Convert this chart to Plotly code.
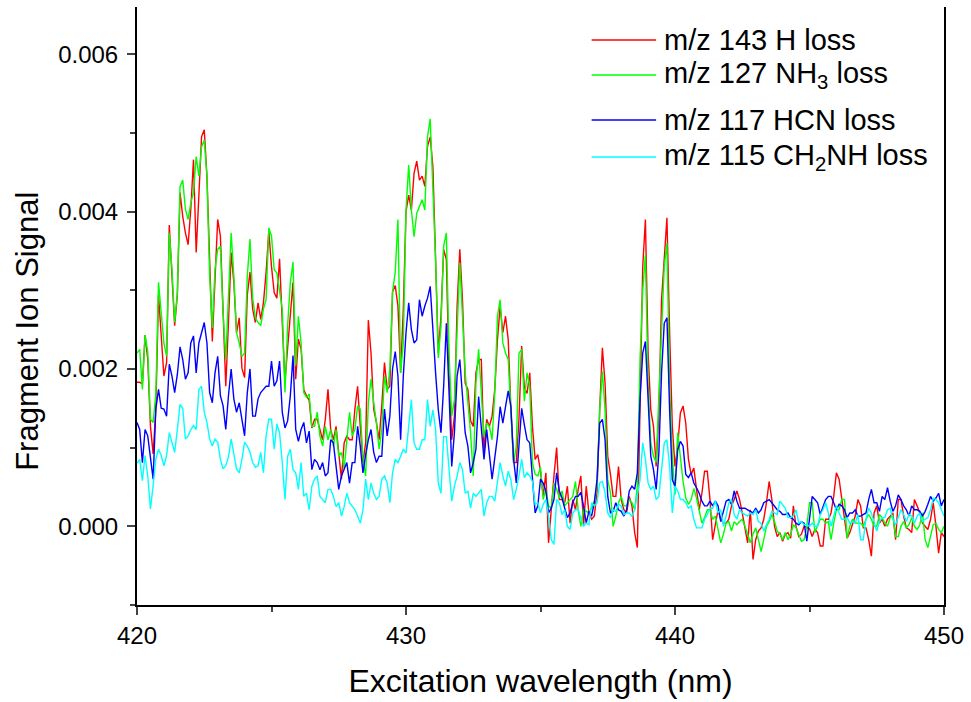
import numpy as np
import plotly.graph_objects as go

# Excitation wavelength grid (nm), 420.0 ... 450.0 in 0.1 nm steps
wavelength = [round(420 + 0.1 * i, 1) for i in range(301)]

# Fragment ion signals, in units of 1e-4
h_loss_143 = [
    18.3, 18.3, 18.1, 24.3, 21.2, 12.7, 9.2, 14.9, 29.4, 24.2,
    19.1, 20.8, 38.3, 31.8, 25.5, 29.4, 42.4, 39.4, 37.3, 35.8,
    40.3, 46.6, 34.8, 42.0, 49.5, 50.4, 44.5, 33.9, 23.5, 31.4,
    39.0, 36.9, 26.3, 17.8, 25.9, 34.8, 31.0, 24.6, 26.5, 20.1,
    18.9, 29.4, 32.3, 27.6, 25.9, 28.4, 26.3, 28.4, 32.3, 37.5,
    33.0, 29.7, 29.0, 34.0, 25.9, 18.3, 22.7, 27.0, 31.0, 18.7,
    23.8, 22.5, 17.4, 16.6, 16.0, 12.5, 13.6, 13.6, 12.3, 11.0,
    13.6, 17.4, 12.3, 11.0, 12.7, 9.4, 6.0, 10.6, 11.5, 11.0,
    11.0, 14.9, 17.8, 12.7, 8.1, 10.6, 26.2, 22.0, 14.9, 13.2,
    11.0, 15.3, 20.8, 17.4, 17.8, 29.8, 30.6, 28.0, 19.5, 27.6,
    40.0, 42.1, 40.2, 44.9, 46.4, 44.0, 44.5, 43.2, 48.3, 49.5,
    45.7, 33.9, 22.0, 26.7, 35.2, 33.9, 19.5, 11.0, 14.0, 28.0,
    35.2, 28.8, 18.2, 17.4, 13.4, 12.7, 19.5, 21.2, 21.2, 9.3,
    13.6, 12.7, 14.0, 17.4, 23.7, 28.0, 24.6, 26.7, 23.7, 14.8,
    8.1, 8.1, 13.6, 22.9, 17.6, 16.9, 19.5, 12.7, 8.5, 9.1,
    7.0, 3.8, 6.8, -2.1, 2.6, 6.4, 10.0, 3.4, 3.4, 3.0,
    5.1, 0.4, 3.4, 2.1, 4.7, 6.4, 0.0, 5.1, 1.7, 0.9,
    1.3, 4.3, 14.8, 22.7, 18.2, 8.9, 6.6, 3.8, 3.8, 7.6,
    3.4, 2.1, 1.7, 3.8, 2.6, -0.8, -2.7, 15.2, 33.0, 39.0,
    22.0, 14.8, 12.7, 7.6, 14.4, 28.8, 34.0, 39.2, 24.6, 12.7,
    7.6, 10.2, 14.4, 15.3, 13.1, 8.5, 6.6, 7.4, 4.7, 2.1,
    4.2, 7.0, 7.0, 3.4, -1.7, 0.0, 2.1, 0.9, 0.4, 0.4,
    0.9, 2.6, 3.4, 4.5, 3.4, 1.7, -0.4, -2.1, 2.1, -4.2,
    -1.7, -0.6, -0.2, 0.9, 3.0, 5.7, 3.4, 0.0, -1.3, -0.8,
    -1.9, -1.0, -0.8, -1.5, 2.6, 0.0, -1.3, -1.0, 0.0, -0.2,
    -0.3, -1.3, -0.4, -0.8, -2.5, -2.5, 0.9, 0.9, 1.7, 3.8,
    6.8, 6.0, 3.4, 0.4, -1.5, -0.8, 0.2, 1.3, 3.4, 2.6,
    -0.2, -0.2, -1.7, -3.8, 1.7, 2.6, 0.4, 0.9, 0.0, 0.9,
    1.3, 1.7, -1.7, 3.4, 3.4, 1.3, -0.2, -0.4, -0.8, 3.4,
    2.6, 1.7, 0.4, 0.0, -0.4, 0.9, 3.0, 0.0, -3.4, -0.8,
    -1.3,
]

nh3_loss_127 = [
    22.0, 22.5, 17.4, 24.3, 22.2, 13.6, 13.2, 16.8, 31.0, 26.7,
    23.3, 21.6, 37.3, 32.7, 25.9, 29.7, 43.2, 44.0, 40.3, 39.0,
    41.1, 42.4, 47.0, 44.5, 48.2, 49.1, 44.5, 31.8, 25.2, 32.7,
    35.2, 35.6, 27.1, 21.2, 29.4, 37.3, 31.8, 24.6, 23.3, 21.6,
    22.0, 31.8, 36.5, 29.0, 26.5, 25.9, 25.5, 27.6, 28.8, 37.9,
    36.9, 32.6, 32.2, 29.9, 27.6, 17.0, 25.5, 31.0, 33.6, 20.4,
    26.7, 23.3, 17.0, 16.4, 16.8, 12.7, 12.7, 14.5, 11.5, 10.2,
    12.7, 11.0, 12.3, 10.2, 12.3, 8.9, 9.4, 7.3, 11.0, 14.5,
    11.5, 12.3, 15.3, 14.9, 8.5, 6.4, 15.7, 18.7, 15.7, 13.2,
    9.8, 12.3, 19.1, 17.0, 20.0, 29.8, 32.3, 39.0, 19.5, 23.3,
    40.2, 45.9, 40.2, 36.8, 39.8, 40.7, 41.5, 40.2, 49.5, 51.8,
    43.2, 33.9, 21.4, 25.4, 35.6, 37.3, 22.0, 14.0, 16.1, 25.4,
    33.5, 26.7, 19.5, 15.7, 11.9, 6.4, 18.2, 22.5, 16.1, 11.4,
    13.1, 12.7, 11.0, 16.9, 26.7, 28.8, 23.3, 22.0, 21.2, 15.2,
    8.1, 10.2, 22.0, 22.5, 15.9, 19.5, 17.8, 8.1, 6.6, 6.4,
    7.5, 3.4, 4.7, 2.6, 2.3, 5.5, 4.7, 3.6, 4.5, 2.6,
    3.0, 3.4, 3.8, 5.7, 2.1, 0.0, 2.3, 1.9, 1.7, 2.3,
    3.2, 5.1, 14.8, 19.7, 14.8, 5.9, 4.3, 0.0, 1.3, 3.0,
    3.8, 2.6, 2.6, 3.4, 3.0, 2.1, 5.1, 21.2, 30.0, 34.5,
    18.0, 10.6, 8.9, 8.1, 16.1, 26.0, 33.0, 36.0, 18.0, 8.9,
    4.0, 11.9, 8.9, 5.7, 3.6, 2.8, 3.4, 4.8, 3.6, 2.1,
    0.4, 1.1, 2.1, 2.1, 0.9, 1.3, -0.6, -2.1, -1.0, 0.4,
    0.6, -0.6, 0.6, 0.2, 0.6, 0.9, 0.0, -1.0, -2.1, -1.0,
    -0.2, -1.7, -3.2, -1.7, 0.0, 0.6, 1.5, 0.6, -0.6, -1.0,
    -1.7, -0.8, -1.7, -1.0, 0.2, -0.2, -1.0, -1.9, -1.7, 0.0,
    3.0, 3.0, -0.8, 0.0, 0.9, 0.9, 0.4, 0.6, -1.7, 0.4,
    2.1, 2.1, 3.4, 3.4, -1.5, 0.0, 0.9, 0.4, 0.4, 0.4,
    0.0, 0.9, 1.5, 0.9, 0.0, 0.0, 1.5, 1.1, 0.4, 0.0,
    1.1, 1.3, -1.3, -1.3, 0.0, 0.6, -0.2, 0.2, 1.1, 0.0,
    -0.4, 0.2, 1.7, -1.7, -2.7, -1.3, 0.2, 0.4, -0.4, -0.8,
    0.0,
]

hcn_loss_117 = [
    13.2, 12.3, 8.1, 12.3, 11.5, 9.0, 6.0, 14.9, 17.4, 15.0,
    14.9, 14.0, 20.6, 19.1, 17.0, 19.3, 22.8, 21.2, 18.7, 19.5,
    23.3, 24.2, 19.5, 23.3, 24.6, 25.9, 23.3, 17.0, 15.7, 19.5,
    21.6, 16.6, 15.3, 12.3, 16.6, 20.0, 16.2, 14.5, 15.7, 13.8,
    11.5, 17.0, 20.0, 14.0, 14.0, 16.2, 17.0, 17.4, 17.8, 17.8,
    21.0, 17.8, 18.5, 21.0, 14.5, 12.5, 13.4, 16.6, 21.7, 12.3,
    10.8, 12.3, 13.2, 10.6, 12.1, 7.2, 8.5, 8.1, 7.2, 8.1,
    6.4, 6.8, 11.0, 10.6, 7.2, 4.7, 6.4, 7.2, 8.1, 5.5,
    8.1, 8.1, 12.7, 10.2, 6.8, 9.1, 11.0, 12.3, 9.4, 8.1,
    8.9, 8.9, 14.9, 11.5, 14.0, 20.0, 22.2, 19.1, 11.0, 19.1,
    24.6, 28.4, 25.0, 23.3, 23.7, 28.8, 26.7, 28.0, 29.0, 30.5,
    24.6, 19.5, 14.8, 11.9, 17.8, 25.8, 17.0, 7.6, 11.9, 19.1,
    21.2, 16.1, 11.9, 10.2, 6.8, 8.1, 9.8, 16.5, 12.3, 8.5,
    12.3, 8.9, 6.0, 8.7, 11.4, 15.2, 13.1, 15.2, 17.2, 15.2,
    8.5, 5.5, 9.8, 15.0, 12.9, 11.0, 10.6, 6.4, 1.7, 2.6,
    6.0, 5.5, 4.5, 1.7, 2.3, 3.4, 6.8, 4.5, 3.6, 2.3,
    1.1, 1.7, 3.0, 3.8, 3.8, 4.3, 2.6, 0.4, 1.9, 1.3,
    3.0, 5.9, 13.1, 13.6, 11.0, 3.8, 1.7, 1.9, 3.0, 2.1,
    1.9, 1.3, 2.1, 4.5, 5.1, 4.7, 6.8, 16.1, 22.0, 23.5,
    16.0, 8.9, 7.2, 4.7, 9.3, 19.5, 25.8, 26.5, 14.8, 5.9,
    5.1, 9.7, 10.8, 10.2, 6.6, 6.2, 6.8, 5.5, 4.9, 4.2,
    3.2, 2.6, 2.6, 3.2, 2.6, 3.2, 2.6, 0.6, 1.9, 3.2,
    3.4, 2.8, 4.5, 3.2, 2.3, 2.3, 2.3, 2.1, 1.9, 1.7,
    2.3, 1.7, 2.1, 3.0, 3.2, 3.4, 3.0, 2.6, 2.1, 1.9,
    1.5, 1.5, 1.7, 1.1, 0.9, 0.4, 0.2, 0.6, 0.4, -1.9,
    1.0, 3.8, 3.4, 3.0, 1.5, 2.6, 3.4, 3.8, 3.8, 3.0,
    2.1, 2.8, 2.6, 2.1, 1.1, 1.7, 1.7, 2.1, 1.3, 1.3,
    1.5, 1.7, 3.4, 4.7, 3.0, 3.0, 1.9, 3.8, 3.4, 4.9,
    3.2, 1.9, 2.6, 4.0, 3.4, 2.6, 2.1, 1.3, 2.6, 2.1,
    2.1, 1.9, 1.3, 1.9, 2.8, 3.8, 3.2, 3.6, 4.2, 2.6,
    3.4,
]

ch2nh_loss_115 = [
    8.0, 8.5, 5.8, 9.0, 6.4, 2.2, 5.2, 8.5, 9.8, 9.0,
    7.7, 9.0, 11.9, 10.5, 9.4, 12.3, 15.5, 15.0, 11.1, 11.5,
    12.3, 12.8, 12.3, 17.4, 17.8, 14.5, 13.2, 11.1, 10.2, 11.1,
    10.7, 8.5, 7.3, 7.7, 8.8, 11.1, 9.0, 7.3, 6.8, 8.5,
    10.7, 10.2, 9.4, 8.1, 7.5, 7.7, 9.4, 6.8, 11.5, 13.6,
    13.6, 9.8, 13.0, 11.9, 8.1, 3.4, 8.9, 9.8, 7.2, 6.8,
    4.7, 8.1, 3.8, 4.2, 2.1, 5.1, 6.0, 6.4, 3.8, 3.4,
    3.0, 4.7, 4.7, 3.8, 2.5, 3.0, 1.3, 2.5, 4.2, 3.0,
    2.5, 2.1, 1.3, 0.4, 2.1, 6.0, 3.4, 5.5, 4.2, 3.4,
    3.8, 6.0, 6.4, 5.5, 3.0, 6.8, 8.5, 8.1, 8.9, 9.8,
    9.3, 13.1, 16.1, 10.6, 9.8, 9.8, 11.0, 11.0, 16.1, 12.7,
    14.8, 12.3, 5.5, 4.2, 11.4, 11.4, 7.2, 3.2, 5.1, 6.4,
    8.1, 7.2, 4.2, 4.5, 2.3, 4.2, 3.8, 4.2, 4.7, 1.3,
    3.0, 3.8, 3.8, 3.2, 5.5, 8.1, 6.4, 5.1, 7.0, 5.9,
    3.4, 4.7, 6.4, 8.5, 6.2, 6.8, 6.4, 5.7, 2.8, 3.0,
    1.7, 2.8, 3.4, 1.3, -1.7, -2.3, 3.4, 3.0, 1.5, 2.1,
    0.0, -0.4, 1.7, 2.1, 2.1, 0.9, 0.0, 0.4, 0.2, 3.0,
    2.6, 3.0, 5.5, 5.7, 4.3, 1.7, 1.1, 2.1, 1.9, 2.8,
    2.6, 1.5, 1.7, 1.7, 1.3, 2.1, 3.8, 5.9, 10.6, 8.5,
    5.5, 4.7, 5.1, 3.4, 3.8, 6.8, 10.6, 11.0, 7.6, 1.7,
    5.1, 4.5, 3.4, 3.4, 3.0, 2.3, 2.6, 0.9, -0.2, -0.2,
    -0.2, 0.9, 1.5, 2.3, 2.3, 3.2, 1.7, 2.1, 0.0, 1.3,
    3.0, 3.4, 1.5, 0.9, 2.1, 1.7, 1.5, 1.3, 1.7, 1.5,
    2.1, 0.6, 0.4, -0.6, 0.2, 0.9, 1.9, 1.7, 1.5, 3.2,
    2.8, 2.3, 1.1, 1.1, 1.3, 2.1, 0.4, 0.6, 0.2, 0.2,
    0.0, 0.4, 0.0, 0.0, 1.5, 2.1, 3.0, 1.7, 0.0, 1.3,
    2.6, 1.7, 0.9, 0.9, 1.1, 0.4, 0.6, 0.4, 1.5, -1.7,
    -1.7, 0.9, 2.3, 1.7, 0.4, -0.6, 0.6, 1.1, 1.1, 2.1,
    2.3, 0.9, 0.2, 1.3, 2.1, 1.5, 0.6, 1.5, 1.3, 0.4,
    1.3, 1.7, 0.6, 0.9, 1.1, 2.1, 3.6, 3.4, 3.0, 2.1,
    1.3,
]

series_names = [
    "m/z 143 H loss",
    "m/z 127 NH<sub>3</sub> loss",
    "m/z 117 HCN loss",
    "m/z 115 CH<sub>2</sub>NH loss",
]
series_values = [h_loss_143, nh3_loss_127, hcn_loss_117, ch2nh_loss_115]
series_colors = ["#FF0000", "#00FF00", "#0000FF", "#00FFFF"]

x_tick_vals = [420, 430, 440, 450]
y_tick_vals = [0.000, 0.002, 0.004, 0.006]

FONT = "Arial, 'Liberation Sans', sans-serif"

fig = go.Figure()
for name, vals, col in zip(series_names, series_values, series_colors):
    fig.add_trace(go.Scatter(
        x=wavelength, y=np.array(vals) * 1e-4, mode="lines", name=name,
        line=dict(color=col, width=1.4), showlegend=False,
    ))

# manual legend (long line samples like the original)
legend_y_px = [40, 75, 120, 157]
for name, col, py in zip(series_names, series_colors, legend_y_px):
    yp = (605 - py) / 598
    fig.add_shape(type="line", xref="paper", yref="paper",
                  x0=(595 - 137) / 813, x1=(660 - 137) / 813, y0=yp, y1=yp,
                  line=dict(color=col, width=1.4))
    fig.add_annotation(xref="paper", yref="paper", x=(666 - 137) / 813, y=yp,
                       xanchor="left", yanchor="middle", text=name, showarrow=False,
                       font=dict(family=FONT, size=29, color="black"))

# y-axis title (placed slightly below the plot's vertical centre, as in the original)
fig.add_annotation(xref="paper", yref="paper", x=(26 - 137) / 813, y=(605 - 331) / 598,
                   xanchor="center", yanchor="middle", textangle=-90, showarrow=False,
                   text="Fragment Ion Signal", font=dict(family=FONT, size=31, color="black"))

fig.update_layout(
    width=971, height=702,
    margin=dict(l=137, r=21, t=7, b=97),
    paper_bgcolor="white", plot_bgcolor="white",
    font=dict(family=FONT, color="black"),
)
fig.update_xaxes(
    range=[420, 450], tickvals=x_tick_vals, ticks="outside", ticklen=8, tickwidth=1.5,
    showline=True, linecolor="black", linewidth=2, showgrid=False, zeroline=False,
    minor=dict(dtick=5, ticks="outside", ticklen=5, tickwidth=1.5, tick0=420),
    tickfont=dict(size=24, family=FONT),
    title=dict(text="Excitation wavelength (nm)", font=dict(size=32, family=FONT), standoff=22),
)
fig.update_yaxes(
    range=[-0.001, 0.0066], tickvals=y_tick_vals, tickformat=".3f", ticks="outside",
    ticklen=8, tickwidth=1.5, showline=True, linecolor="black", linewidth=2, mirror=True,
    showgrid=False, zeroline=False, ticklabelstandoff=4,
    minor=dict(dtick=0.001, tick0=0, ticks="outside", ticklen=5, tickwidth=1.5),
    tickfont=dict(size=24, family=FONT),
)

fig.write_html("out.html")
